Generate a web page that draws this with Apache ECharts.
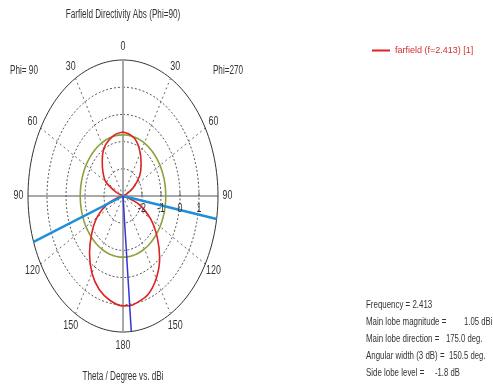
<!DOCTYPE html>
<html>
<head>
<meta charset="utf-8">
<script src="https://cdn.jsdelivr.net/npm/echarts@6/dist/echarts.min.js"></script>
<style>
html,body{margin:0;padding:0;background:#fff;}
#chart{width:493px;height:387px;}
</style>
</head>
<body>
<div id="chart"></div>
<script>
// ---- data ----
const thetaDeg = [0,10,20,30,40,50,60,70,80,90,100,110,120,130,140,150,160,170,175,180,
                  190,200,210,220,230,240,250,260,270,280,290,300,310,320,330,340,350,360];
const directivity = [-0.65,-0.72,-0.88,-1.18,-1.52,-1.86,-2.36,-2.8,-3,-3,-2.9,-2.1,-1.33,-0.65,0.0,0.5,0.85,1.0,1.05,1.04,
                     0.9,0.66,0.27,-0.26,-0.85,-1.42,-2.1,-2.8,-3,-3,-2.65,-1.95,-1.62,-1.3,-0.98,-0.82,-0.7,-0.65];
const seriesName = 'farfield (f=2.413) [1]';
const radialMin = -3, radialMax = 2;
const radialTicks = [-2,-1,0,1];
const angleLabelAngles = [0,30,60,90,120,150,180,210,240,270,300,330];
const angleLabels = ['0','30','60','90','120','150','180','150','120','90','60','30'];
const spokeAngles = [30,60,120,150,210,240,300,330];
const mainLobeDirection = 175;
const beamEdges = [99.75, 250.25];
const sideLobeLevelCircle = -0.75;
const infoLabels = ['Frequency = 2.413', 'Main lobe magnitude =', 'Main lobe direction =', 'Angular width (3 dB) =', 'Side lobe level ='];
const infoValues = ['', '1.05 dBi', '175.0 deg.', '150.5 deg.', '-1.8 dB'];

// ---- layout / style constants ----
const infoValueX = [0, 464, 446, 449, 435];
const font = 'Liberation Sans, Arial, sans-serif';

// ---- helpers ----
const R = radialMax - radialMin;
function toXY(theta, v) {
  const r = Math.max(v - radialMin, 0);
  const t = theta * Math.PI / 180;
  return [r * Math.sin(t), r * Math.cos(t)];
}
function circle(v) {
  const pts = [];
  for (let a = 0; a <= 360; a += 2) pts.push(toXY(a, v));
  return pts;
}
function lineSeries(data, color, width, type, z) {
  return { type: 'line', data: data, symbol: 'none', silent: true, clip: false,
           lineStyle: { color: color, width: width, type: type || 'solid' }, z: z || 2,
           animation: false };
}

const series = [];
radialTicks.forEach(v => series.push(lineSeries(circle(v), '#555', 1, [2, 2], 1)));
series.push(lineSeries(circle(radialMax), '#333', 1, 'solid', 1));
spokeAngles.forEach(a => series.push(lineSeries([toXY(a, radialMin), toXY(a, radialMax)], '#666', 1, [2, 3], 1)));
series.push(lineSeries([toXY(0, radialMax), toXY(180, radialMax)], '#a8a8a8', 2, 'solid', 1));
series.push(lineSeries([toXY(270, radialMax), toXY(90, radialMax)], '#555', 1.2, 'solid', 1));
series.push(lineSeries(circle(sideLobeLevelCircle), '#8ca03c', 1.6, 'solid', 3));
series.push({
  name: seriesName, type: 'line', symbol: 'none', smooth: 0.3, clip: false, animation: false,
  data: thetaDeg.map((t, i) => toXY(t, directivity[i])),
  lineStyle: { color: '#dd2222', width: 1.6 }, itemStyle: { color: '#dd2222' }, z: 4
});
series.push(lineSeries([toXY(beamEdges[0], radialMax), toXY(0, radialMin), toXY(beamEdges[1], radialMax)], '#1e8fd8', 2.5, 'solid', 5));
series.push(lineSeries([toXY(0, radialMin), toXY(mainLobeDirection, radialMax)], '#3535d5', 1.5, 'solid', 6));
series.push({
  type: 'scatter', silent: true, clip: false, animation: false, symbol: 'rect', symbolSize: [1, 4],
  symbolOffset: [0, -2], itemStyle: { color: '#555' },
  data: radialTicks.map(v => toXY(90, v))
});

function txt(x, y, s, align, color, size, sx) {
  return { type: 'text', x: x, y: y, scaleX: sx || 0.68, silent: true, z: 10,
           style: { text: s, fill: color || '#333', fontSize: size || 12, fontFamily: font,
                    align: align || 'left', verticalAlign: 'middle' } };
}

const chart = echarts.init(document.getElementById('chart'), null, { renderer: 'canvas' });
chart.setOption({
  animation: false,
  backgroundColor: '#fff',
  grid: { left: 28, top: 60, width: 190, height: 272 },
  xAxis: { type: 'value', min: -R, max: R, show: false },
  yAxis: { type: 'value', min: -R, max: R, show: false },
  legend: {
    data: [seriesName], left: 372, top: 46, padding: 0, icon: 'rect', itemWidth: 18, itemHeight: 2,
    textStyle: { color: '#d03030', fontSize: 9, fontFamily: font }
  },
  series: series
});

const graphics = [
  txt(123, 15, 'Farfield Directivity Abs (Phi=90)', 'center'),
  txt(24, 71, 'Phi= 90', 'center'),
  txt(228, 71, 'Phi=270', 'center'),
  txt(123, 377, 'Theta / Degree vs. dBi', 'center')
];
angleLabelAngles.forEach((a, i) => {
  const p = chart.convertToPixel({ gridIndex: 0 }, toXY(a, radialMin + R * 1.1));
  graphics.push(txt(p[0], p[1], angleLabels[i], 'center', '#333', 12, 0.74));
});
radialTicks.forEach(v => {
  const p = chart.convertToPixel({ gridIndex: 0 }, toXY(90, v));
  graphics.push(txt(p[0], p[1] + 13, String(v), 'center', '#333', 12, 0.74));
});
infoLabels.forEach((s, i) => {
  const y = 305 + i * 17;
  graphics.push(txt(366, y, s, 'left', '#333', 11, 0.72));
  if (infoValues[i]) graphics.push(txt(infoValueX[i], y, infoValues[i], 'left', '#333', 11, 0.7));
});
chart.setOption({ graphic: graphics });
</script>
</body>
</html>
